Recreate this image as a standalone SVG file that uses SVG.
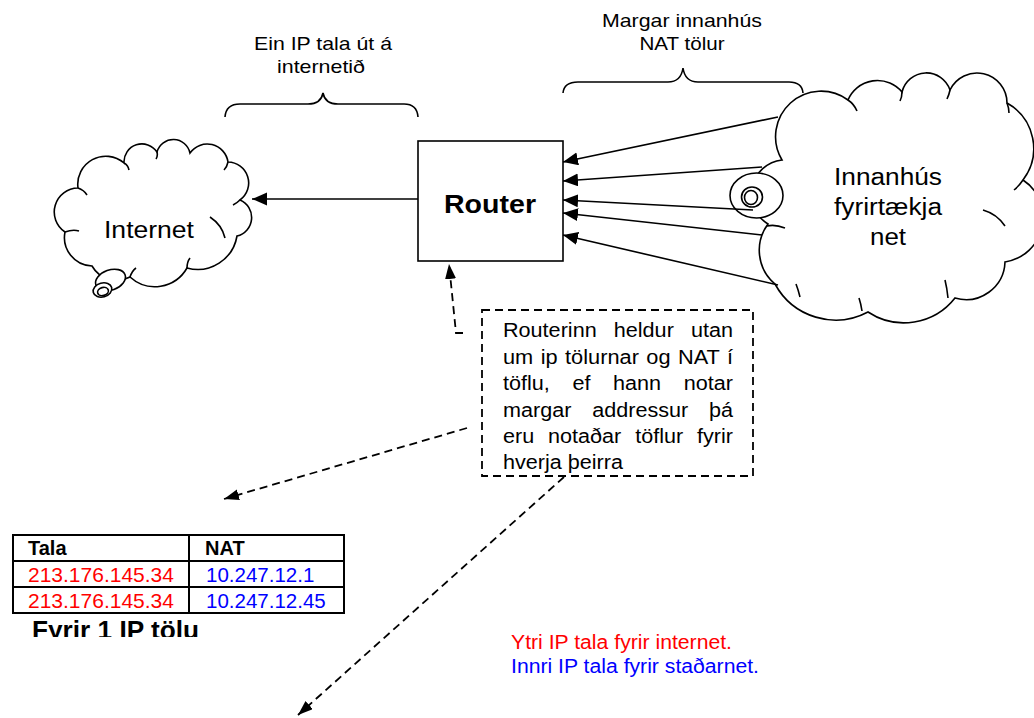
<svg xmlns="http://www.w3.org/2000/svg" width="1034" height="718" viewBox="0 0 1034 718">
<style>
  .cl{fill:#fff;stroke:#000;stroke-width:1.6}
  .st{fill:none;stroke:#000;stroke-width:1.6}
  .ln{fill:none;stroke:#000;stroke-width:1.6}
  .dash{fill:none;stroke:#000;stroke-width:1.8;stroke-dasharray:8 5}
  .box{fill:#fff;stroke:#000;stroke-width:1.6}
  .tb{fill:none;stroke:#000;stroke-width:2}
  text{font-family:"Liberation Sans",Arial,sans-serif;fill:#000}
  .b{font-weight:bold}
  .red{fill:#ff0000}
  .blue{fill:#0000ff}
  .nt{font-size:20px}
</style>
<defs>
  <marker id="ah" markerUnits="userSpaceOnUse" markerWidth="16" markerHeight="14" refX="15" refY="6.5" orient="auto">
    <path d="M0,0 L15,6.5 L0,13 z" fill="#000"/>
  </marker>
  <marker id="ahd" markerUnits="userSpaceOnUse" markerWidth="16" markerHeight="12" refX="15" refY="5.5" orient="auto">
    <path d="M0,0 L15,5.5 L0,11 z" fill="#000"/>
  </marker>
  <clipPath id="capclip"><rect x="0" y="610" width="400" height="27"/></clipPath>
</defs>

<g id="brace-left">
  <path class="ln" d="M225,117 Q226,104 240,104 L308,104 Q321,104 323,93 Q325,104 338,104 L404,104 Q417,104 418,117"/>
  <text x="323" y="50" font-size="18.5" text-anchor="middle" textLength="138" lengthAdjust="spacingAndGlyphs">Ein IP tala út á</text>
  <text x="321" y="73" font-size="18.5" text-anchor="middle" textLength="88" lengthAdjust="spacingAndGlyphs">internetið</text>
</g>

<g id="brace-right">
  <path class="ln" d="M563,93 Q564,82 578,82 L668,82 Q681,82 683,68 Q685,82 698,82 L789,82 Q802,82 803,93"/>
  <text x="682" y="27" font-size="18.5" text-anchor="middle" textLength="160" lengthAdjust="spacingAndGlyphs">Margar innanhús</text>
  <text x="682" y="50" font-size="18.5" text-anchor="middle" textLength="85" lengthAdjust="spacingAndGlyphs">NAT tölur</text>
</g>

<g id="internet">
  <path class="cl" d="M65,232 A24,24 0 0 1 78,188 A28,28 0 0 1 124,163 A18,18 0 0 1 157,152 A17,17 0 0 1 190,153 A21,21 0 0 1 228,162 A21,21 0 0 1 240,200 A19,19 0 0 1 237,236 A40,40 0 0 1 187,268 A37,37 0 0 1 130,277 A28.5,28.5 0 0 1 92,266 A28.5,28.5 0 0 1 65,232 Z"/>
  <path class="st" d="M78,188 q6,2 9,7 M124,163 q4,2 5,7 M157,152 q1,4 -1,7 M228,162 q-1,5 -4,8 M240,200 q-3,3 -7,5 M210,217 q12,8 15,21 M65,232 q8,-3 14,-1 M187,268 q0,-6 3,-10 M130,277 q2,-6 6,-9"/>
  <ellipse class="cl" cx="110.5" cy="280" rx="15.5" ry="10" transform="rotate(-20 110.5 280)"/>
  <ellipse class="cl" cx="102.5" cy="290" rx="9.5" ry="7" transform="rotate(-15 102.5 290)"/>
  <ellipse class="st" cx="103" cy="291.5" rx="5.5" ry="4" transform="rotate(-15 103 291.5)"/>
  <text x="104" y="238" font-size="24.5" textLength="90" lengthAdjust="spacingAndGlyphs">Internet</text>
</g>

<g id="router">
  <rect class="box" x="418" y="141" width="145" height="120"/>
  <text class="b" x="444" y="213" font-size="26" textLength="92" lengthAdjust="spacingAndGlyphs">Router</text>
</g>

<g id="intranet">
  <path class="cl" d="M782,160 A45.5,45.5 0 0 1 848,100 A32,32 0 0 1 902,92 A25,25 0 0 1 950,90 A30,30 0 0 1 1007,103 A52,52 0 0 1 1023,180 A45,45 0 0 1 1005,262 A39,39 0 0 1 955,298 A65,65 0 0 1 868,312 A69,69 0 0 1 775,284 A44,44 0 0 1 768,224 A34.6,34.6 0 0 1 782,160 Z"/>
  <path class="st" d="M848,100 q6,4 9,11 M902,92 q0,5 -2,9 M950,90 q-1,5 -3,9 M1007,103 q2,5 2,10 M1023,180 q-4,6 -9,10 M983,210 q14,4 22,16 M948,298 q-1,-10 -3,-18 M862,311 q-1,-7 -3,-13 M785,228 q-10,-4 -18,-2 M800,297 q-2,-8 -4,-13"/>
  <ellipse class="cl" cx="756.5" cy="195.5" rx="26.5" ry="22.5"/>
  <ellipse class="st" cx="752" cy="197" rx="10.5" ry="10"/>
  <ellipse class="st" cx="751" cy="197.5" rx="6.5" ry="7"/>
  <text x="888" y="185" font-size="23.5" text-anchor="middle" textLength="108" lengthAdjust="spacingAndGlyphs">Innanhús</text>
  <text x="888" y="215" font-size="23.5" text-anchor="middle" textLength="108" lengthAdjust="spacingAndGlyphs">fyrirtækja</text>
  <text x="888" y="245" font-size="23.5" text-anchor="middle" textLength="36" lengthAdjust="spacingAndGlyphs">net</text>
</g>

<g id="note">
  <rect class="dash" x="482" y="310" width="271" height="166"/>
  <text class="nt" x="503" y="337" word-spacing="10.3" textLength="230" lengthAdjust="spacingAndGlyphs">Routerinn heldur utan</text>
  <text class="nt" x="503" y="363.5" word-spacing="1.26" textLength="230" lengthAdjust="spacingAndGlyphs">um ip tölurnar og NAT í</text>
  <text class="nt" x="503" y="390" word-spacing="15.4" textLength="230" lengthAdjust="spacingAndGlyphs">töflu, ef hann notar</text>
  <text class="nt" x="503" y="416.5" word-spacing="13.7" textLength="230" lengthAdjust="spacingAndGlyphs">margar addressur þá</text>
  <text class="nt" x="503" y="443" word-spacing="7.3" textLength="230" lengthAdjust="spacingAndGlyphs">eru notaðar töflur fyrir</text>
  <text class="nt" x="503" y="469" textLength="120" lengthAdjust="spacingAndGlyphs">hverja þeirra</text>
</g>

<g id="table">
  <rect class="tb" x="13" y="535" width="331" height="78"/>
  <line class="tb" x1="13" y1="561" x2="344" y2="561"/>
  <line class="tb" x1="13" y1="587" x2="344" y2="587"/>
  <line class="tb" x1="189" y1="535" x2="189" y2="613"/>
  <text class="b" x="28" y="555" font-size="20">Tala</text>
  <text class="b" x="205" y="555" font-size="20">NAT</text>
  <text class="red" x="28" y="582" font-size="21">213.176.145.34</text>
  <text class="blue" x="206" y="582" font-size="20.5">10.247.12.1</text>
  <text class="red" x="28" y="607.5" font-size="21">213.176.145.34</text>
  <text class="blue" x="206" y="607.5" font-size="20.5">10.247.12.45</text>
</g>

<g id="caption" clip-path="url(#capclip)">
  <text class="b" x="32" y="639" font-size="25.5" textLength="167" lengthAdjust="spacingAndGlyphs">Fyrir 1 IP tölu</text>
</g>

<g id="legend">
  <text class="red" x="511" y="649" font-size="20" textLength="221" lengthAdjust="spacingAndGlyphs">Ytri IP tala fyrir internet.</text>
  <text class="blue" x="511" y="673" font-size="20" textLength="248" lengthAdjust="spacingAndGlyphs">Innri IP tala fyrir staðarnet.</text>
</g>

<g id="connectors">
  <line class="ln" x1="418" y1="199" x2="252" y2="199" marker-end="url(#ah)"/>
  <line class="ln" x1="778" y1="117" x2="563" y2="162" marker-end="url(#ah)"/>
  <line class="ln" x1="762" y1="167" x2="563" y2="181" marker-end="url(#ah)"/>
  <line class="ln" x1="753" y1="210" x2="563" y2="200" marker-end="url(#ah)"/>
  <line class="ln" x1="762" y1="235" x2="563" y2="213" marker-end="url(#ah)"/>
  <line class="ln" x1="778" y1="285" x2="563" y2="235" marker-end="url(#ah)"/>
  <path class="dash" d="M463,333 L456,333 L449,264" marker-end="url(#ahd)"/>
  <line class="dash" x1="467" y1="428" x2="224" y2="499" marker-end="url(#ahd)"/>
  <line class="dash" x1="564" y1="477" x2="298" y2="715" marker-end="url(#ahd)"/>
</g>
</svg>
